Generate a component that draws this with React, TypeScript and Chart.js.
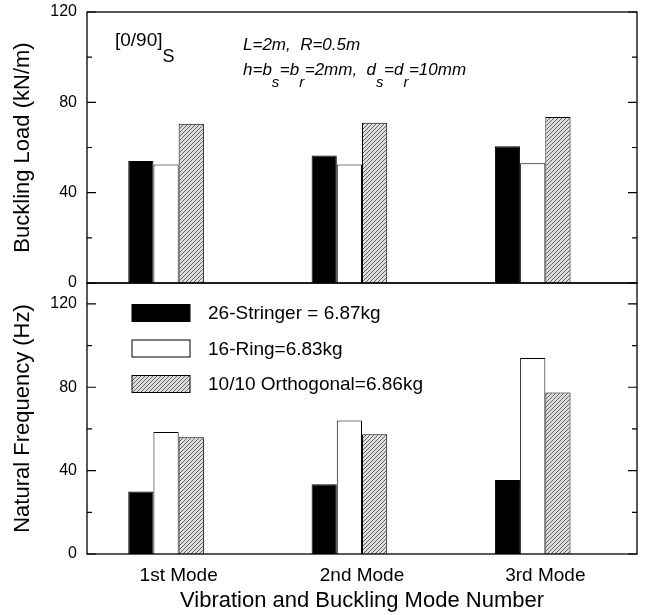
import React, { useEffect, useRef } from 'react';
import { Chart, registerables } from 'chart.js';
Chart.register(...registerables);

// ---------- data ----------
const modes = ['1st Mode', '2nd Mode', '3rd Mode'];
const seriesLabels = ['26-Stringer = 6.87kg', '16-Ring=6.83kg', '10/10 Orthogonal=6.86kg'];
const bucklingStringer = [54, 56.5, 60.5];
const bucklingRing = [52.5, 52.5, 53];
const bucklingOrthogonal = [70.5, 71, 73.5];
const freqStringer = [30, 33.5, 35.5];
const freqRing = [58.5, 64, 94];
const freqOrthogonal = [56, 57.5, 77.5];
const spacer = [0, 0, 0];
const majorTicks = [0, 40, 80, 120];
const minorTicks = [20, 60, 100];
const topTitle = 'Buckling Load (kN/m)';
const bottomTitle = 'Natural Frequency (Hz)';
const xTitle = 'Vibration and Buckling Mode Number';
const noteLayup = [{ t: '[0/90]', sub: false }, { t: 'S', sub: true }];
const noteGeom1 = [{ t: 'L=2m,  R=0.5m', sub: false }];
const noteGeom2 = [
  { t: 'h=b', sub: false }, { t: 's', sub: true }, { t: '=b', sub: false }, { t: 'r', sub: true },
  { t: '=2mm,  d', sub: false }, { t: 's', sub: true }, { t: '=d', sub: false }, { t: 'r', sub: true },
  { t: '=10mm', sub: false },
];

const FONT = '"Liberation Sans", Arial, Helvetica, sans-serif';

function makeHatch(): any {
  const c = document.createElement('canvas');
  c.width = 4; c.height = 4;
  const g = c.getContext('2d')!;
  g.fillStyle = '#dedede';
  g.fillRect(0, 0, 4, 4);
  g.strokeStyle = '#555555';
  g.lineWidth = 0.9;
  g.beginPath();
  g.moveTo(0, 4); g.lineTo(4, 0);
  g.moveTo(-1, 1); g.lineTo(1, -1);
  g.moveTo(3, 5); g.lineTo(5, 3);
  g.stroke();
  return g.createPattern(c, 'repeat');
}

const framePlugin = {
  id: 'frame',
  afterDatasetsDraw(chart: any) {
    const { ctx, chartArea: a, scales } = chart;
    const y = scales.y;
    ctx.save();
    ctx.strokeStyle = '#000';
    ctx.lineWidth = 1.3;
    ctx.strokeRect(a.left, a.top, a.right - a.left, a.bottom - a.top);
    ctx.lineWidth = 1.2;
    const all = majorTicks.concat(minorTicks);
    for (const v of all) {
      const len = majorTicks.includes(v) ? 9 : 5;
      const py = y.getPixelForValue(v);
      ctx.beginPath();
      ctx.moveTo(a.left, py); ctx.lineTo(a.left + len, py);
      ctx.moveTo(a.right, py); ctx.lineTo(a.right - len, py);
      ctx.stroke();
    }
    ctx.restore();
  },
};

function drawRuns(ctx: any, runs: any[], x: number, baseline: number, mainFont: string, subFont: string, subDrop: number) {
  let cx = x;
  for (const r of runs) {
    ctx.font = r.sub ? subFont : mainFont;
    ctx.fillText(r.t, cx, r.sub ? baseline + subDrop : baseline);
    cx += ctx.measureText(r.t).width + (r.sub ? 0.5 : 0);
  }
}

const notesPlugin = {
  id: 'notes',
  afterDraw(chart: any) {
    const { ctx, chartArea: a } = chart;
    ctx.save();
    ctx.fillStyle = '#000';
    ctx.textAlign = 'left';
    ctx.textBaseline = 'alphabetic';
    drawRuns(ctx, noteLayup, a.left + 28, a.top + 34, `19px ${FONT}`, `18px ${FONT}`, 16);
    drawRuns(ctx, noteGeom1, a.left + 156, a.top + 38, `italic 17px ${FONT}`, `italic 15px ${FONT}`, 12);
    drawRuns(ctx, noteGeom2, a.left + 156, a.top + 63, `italic 17px ${FONT}`, `italic 15px ${FONT}`, 12);
    ctx.restore();
  },
};

const legendPlugin = {
  id: 'boxLegend',
  afterDraw(chart: any) {
    const { ctx, chartArea: a } = chart;
    ctx.save();
    ctx.font = `19px ${FONT}`;
    ctx.textAlign = 'left';
    ctx.textBaseline = 'middle';
    for (let i = 0; i < seriesLabels.length; i++) {
      const ds = chart.data.datasets[i];
      const cy = a.top + 30 + i * 35.5;
      const bx = a.left + 45;
      ctx.fillStyle = ds.backgroundColor;
      ctx.fillRect(bx, cy - 8.5, 58, 17);
      ctx.strokeStyle = '#000';
      ctx.lineWidth = 1;
      ctx.strokeRect(bx, cy - 8.5, 58, 17);
      ctx.fillStyle = '#000';
      ctx.fillText(seriesLabels[i], a.left + 121, cy + 1);
    }
    ctx.restore();
  },
};

function makeDatasets(values: number[][], hatch: any) {
  const fills = ['#000000', '#ffffff', hatch];
  const ds: any[] = values.map((v, i) => ({
    label: seriesLabels[i],
    data: v,
    backgroundColor: fills[i],
    borderColor: '#000',
    borderWidth: 1,
    borderSkipped: 'start',
  }));
  ds.push({ label: '', data: spacer, backgroundColor: 'rgba(0,0,0,0)', borderWidth: 0 });
  return ds;
}

function yScale(max: number, title: string) {
  return {
    min: 0,
    max,
    afterBuildTicks: (s: any) => { s.ticks = majorTicks.map((v) => ({ value: v })); },
    afterFit: (s: any) => { s.width = 87; },
    ticks: { font: { family: FONT, size: 16 }, color: '#000', padding: 0 },
    grid: { display: false, drawTicks: true, tickLength: 10 },
    border: { display: false },
    title: {
      display: true, text: title, color: '#000',
      font: { family: FONT, size: 22 }, padding: { top: 10, bottom: 0 },
    },
  };
}

export default function App() {
  const topRef = useRef<HTMLCanvasElement>(null);
  const botRef = useRef<HTMLCanvasElement>(null);

  useEffect(() => {
    const hatch = makeHatch();
    const common = {
      responsive: false,
      animation: false as const,
      devicePixelRatio: 1,
      plugins: { legend: { display: false }, tooltip: { enabled: false } },
      datasets: { bar: { categoryPercentage: 0.55, barPercentage: 1.0 } },
    };
    const top = new Chart(topRef.current!, {
      type: 'bar',
      data: { labels: modes, datasets: makeDatasets([bucklingStringer, bucklingRing, bucklingOrthogonal], hatch) },
      options: {
        ...common,
        layout: { padding: { top: 12, bottom: 11, left: 0, right: 9 } },
        scales: {
          x: { display: false, offset: true },
          y: yScale(120, topTitle) as any,
        },
      } as any,
      plugins: [framePlugin, notesPlugin],
    });
    const bot = new Chart(botRef.current!, {
      type: 'bar',
      data: { labels: modes, datasets: makeDatasets([freqStringer, freqRing, freqOrthogonal], hatch) },
      options: {
        ...common,
        layout: { padding: { top: 10, bottom: 0, left: 0, right: 9 } },
        scales: {
          x: {
            offset: true,
            afterFit: (s: any) => { s.height = 61; },
            ticks: { font: { family: FONT, size: 19 }, color: '#000', padding: 10 },
            grid: { display: false, drawTicks: false },
            border: { display: false },
            title: {
              display: true, text: xTitle, color: '#000',
              font: { family: FONT, size: 22 }, padding: { top: 0, bottom: 1 },
            },
          },
          y: yScale(130, bottomTitle) as any,
        },
      } as any,
      plugins: [framePlugin, legendPlugin],
    });
    return () => { top.destroy(); bot.destroy(); };
  }, []);

  return (
    <div style={{ position: 'absolute', left: 0, top: 0, width: 646, height: 615, background: '#fff' }}>
      <canvas ref={topRef} width={646} height={294} style={{ position: 'absolute', left: 0, top: 0 }} />
      <canvas ref={botRef} width={646} height={342} style={{ position: 'absolute', left: 0, top: 273 }} />
    </div>
  );
}
